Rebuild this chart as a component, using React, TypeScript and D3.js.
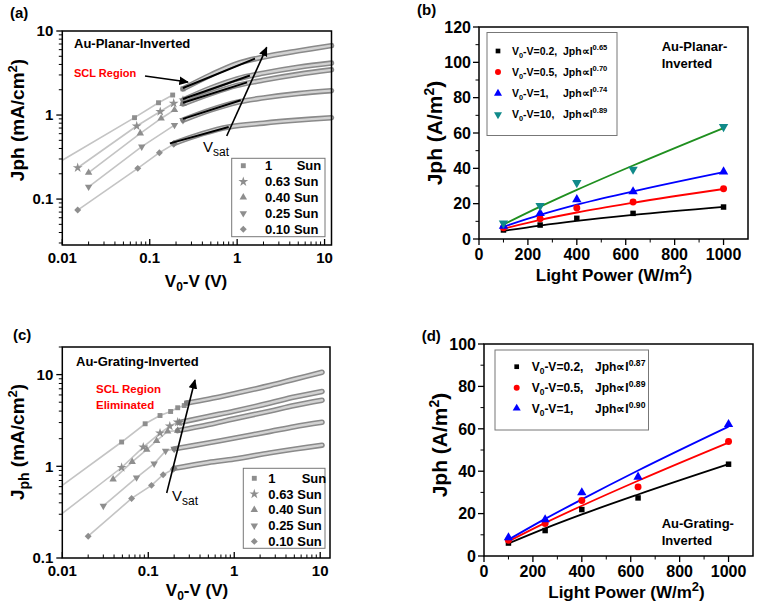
import React from "react";
import * as d3 from "d3";

const FONT = "'Liberation Sans', Arial, sans-serif";

// ---------- Panel (a): Au-Planar-Inverted, log-log ----------
const sunLabels = ["1", "0.63", "0.40", "0.25", "0.10"];
const sunSymbols = ["square", "star", "tri", "tridown", "diamond"];
const aLowV = [[0.067, 0.126, 0.183], [0.015, 0.071, 0.132, 0.188], [0.02, 0.078, 0.135, 0.192], [0.02, 0.081, 0.192], [0.015, 0.073, 0.129, 0.188]];
const aLowJ = [[0.93, 1.4, 1.73], [0.236, 0.74, 1.1, 1.38], [0.206, 0.605, 0.91, 1.15], [0.14, 0.42, 0.76], [0.074, 0.232, 0.356, 0.45]];
const aEdgeJ = [0.29, null, null, null, null];
const aBandV = [[0.24, 0.5, 1, 2, 5, 12], [0.24, 0.5, 1, 2, 5, 12], [0.24, 0.5, 1, 2, 5, 12], [0.24, 0.5, 1, 2, 5, 12], [0.19, 0.4, 0.8, 2, 5, 12]];
const aBandJ = [
  [2.05, 3.0, 4.1, 4.9, 5.8, 6.7],
  [1.51, 2.1, 2.7, 3.15, 3.7, 4.15],
  [1.36, 1.8, 2.25, 2.6, 3.05, 3.45],
  [0.87, 1.15, 1.42, 1.6, 1.8, 1.95],
  [0.46, 0.6, 0.72, 0.8, 0.87, 0.93],
];
const aFitV = [[0.24, 1.6], [0.24, 1.4], [0.24, 1.3], [0.24, 1.1], [0.17, 0.8]];
const aFitJ = [[2.1, 4.7], [1.55, 2.95], [1.4, 2.45], [0.9, 1.5], [0.46, 0.72]];

// ---------- Panel (c): Au-Grating-Inverted, log-log ----------
const cLowV = [[0.049, 0.092, 0.137, 0.182, 0.22, 0.262], [0.049, 0.0875, 0.137, 0.178, 0.22], [0.039, 0.065, 0.096, 0.125, 0.168], [0.03, 0.073, 0.117, 0.159], [0.02, 0.064, 0.109, 0.149, 0.195]];
const cLowJ = [[1.84, 2.91, 3.58, 3.96, 4.35, 4.6], [0.97, 1.62, 2.3, 2.74, 3.03], [0.72, 1.12, 1.52, 1.9, 2.4], [0.37, 0.754, 1.07, 1.47], [0.173, 0.446, 0.62, 0.81, 0.93]];
const cEdgeJ = [0.62, 0.306, null, null, null];
const cBandV = [[0.28, 0.5, 1, 2.6, 5, 10.5], [0.23, 0.5, 1, 2.6, 5, 10.5], [0.22, 0.5, 1, 2.6, 5, 10.5], [0.2, 0.5, 1, 2.6, 5, 10.5], [0.2, 0.5, 1, 2.6, 5, 10.5]];
const cBandJ = [
  [4.9, 5.4, 6.2, 7.6, 8.9, 10.6],
  [3.0, 3.5, 4.0, 4.9, 5.7, 6.55],
  [2.45, 2.85, 3.3, 4.0, 4.6, 5.25],
  [1.55, 1.8, 2.03, 2.4, 2.7, 3.02],
  [0.95, 1.1, 1.2, 1.4, 1.54, 1.7],
];

// ---------- Panels (b) and (d): Jph vs light power ----------
const lightPower = [100, 250, 400, 630, 1000];
const bVoltages = ["0.2,", "0.5,", "1,", "10,"];
const bExponents = ["0.65", "0.70", "0.74", "0.89"];
const bJ = [[5.1, 7.9, 11.7, 14.5, 18.1], [6.4, 11.5, 17.5, 20.9, 28.4], [7.3, 14.5, 22.4, 26.8, 38.1], [8.9, 18.8, 31.8, 39.4, 63.5]];
const bFit = [[4.6, 7.6, 10.2, 13.6, 18.2], [5.8, 10.8, 15.0, 20.5, 28.3], [6.9, 13.6, 19.4, 26.9, 37.8], [8.2, 18.3, 27.8, 41.6, 62.8]];
const bMarkerColors = ["#000000", "#ff0000", "#0000ff", "#108a8a"];
const bLineColors = ["#000000", "#ff0000", "#0000ff", "#1f8f1f"];
const bSymbols = ["square", "circle", "tri", "tridown"];

const dVoltages = ["0.2,", "0.5,", "1,"];
const dExponents = ["0.87", "0.89", "0.90"];
const dJ = [[6.1, 12.0, 21.9, 27.4, 43.3], [7.4, 15.3, 26.2, 32.6, 54.0], [8.7, 17.2, 29.9, 37.3, 62.1]];
const dFit = [[5.9, 13.0, 19.6, 29.0, 43.3], [6.9, 15.6, 23.7, 35.5, 53.5], [7.7, 17.5, 26.7, 40.3, 61.0]];
const dColors = ["#000000", "#ff0000", "#0000ff"];
const dSymbols = ["square", "circle", "tri"];

const linXTicks = [0, 200, 400, 600, 800, 1000];
const linXMinor = [100, 300, 500, 700, 900];

function symPath(s: string, size: number) {
  let t: any = d3.symbolSquare;
  if (s === "star") t = d3.symbolStar;
  else if (s === "tri" || s === "tridown") t = d3.symbolTriangle;
  else if (s === "circle") t = d3.symbolCircle;
  return d3.symbol(t, size)() as string;
}

function Mk({ x, y, s, size, fill, stroke }: any) {
  const rot = s === "tridown" ? 180 : s === "diamond" ? 45 : 0;
  return (
    <path
      d={symPath(s, size)}
      transform={`translate(${x},${y}) rotate(${rot})`}
      fill={fill}
      stroke={stroke || "none"}
      strokeWidth={0.6}
    />
  );
}

function logTicks(domain: number[]) {
  const major: number[] = [];
  const minor: number[] = [];
  const [a, b] = domain;
  for (let k = Math.floor(Math.log10(a)); k <= Math.ceil(Math.log10(b)); k++) {
    for (let m = 1; m <= 9; m++) {
      const v = m * Math.pow(10, k);
      if (v < a * 0.999 || v > b * 1.001) continue;
      (m === 1 ? major : minor).push(v);
    }
  }
  return { major, minor };
}

function fmtLog(v: number) {
  if (v >= 1) return String(Math.round(v));
  return String(+v.toPrecision(1));
}

function LogAxes({ xs, ys, fs }: any) {
  const [x0, x1] = xs.range();
  const [yb, yt] = ys.range();
  const xt = logTicks(xs.domain());
  const yt2 = logTicks(ys.domain());
  return (
    <g>
      <rect x={x0} y={yt} width={x1 - x0} height={yb - yt} fill="none" stroke="#000" strokeWidth={1.5} />
      {yt2.major.map((v) => (
        <g key={"ym" + v}>
          <line x1={x0 - 6} x2={x0} y1={ys(v)} y2={ys(v)} stroke="#000" strokeWidth={1.3} />
          <text x={x0 - 9} y={ys(v)} dy="0.36em" textAnchor="end" fontSize={fs} fontWeight="bold" fontFamily={FONT}>
            {fmtLog(v)}
          </text>
        </g>
      ))}
      {yt2.minor.map((v) => (
        <line key={"yn" + v} x1={x0 - 3.5} x2={x0} y1={ys(v)} y2={ys(v)} stroke="#000" strokeWidth={1} />
      ))}
      {xt.major.map((v) => (
        <g key={"xm" + v}>
          <line x1={xs(v)} x2={xs(v)} y1={yb} y2={yb - 6} stroke="#000" strokeWidth={1.3} />
          <text x={xs(v)} y={yb + 18} textAnchor="middle" fontSize={fs} fontWeight="bold" fontFamily={FONT}>
            {fmtLog(v)}
          </text>
        </g>
      ))}
      {xt.minor.map((v) => (
        <line key={"xn" + v} x1={xs(v)} x2={xs(v)} y1={yb} y2={yb - 3.5} stroke="#000" strokeWidth={1} />
      ))}
    </g>
  );
}

function LinAxes({ xs, ys, yMajor, yMinor, fs }: any) {
  const [x0, x1] = xs.range();
  const [yb, yt] = ys.range();
  return (
    <g>
      <rect x={x0} y={yt} width={x1 - x0} height={yb - yt} fill="none" stroke="#000" strokeWidth={1.5} />
      {yMajor.map((v: number) => (
        <g key={"ym" + v}>
          <line x1={x0 - 6} x2={x0} y1={ys(v)} y2={ys(v)} stroke="#000" strokeWidth={1.3} />
          <text x={x0 - 8} y={ys(v)} dy="0.36em" textAnchor="end" fontSize={fs} fontWeight="bold" fontFamily={FONT}>
            {v}
          </text>
        </g>
      ))}
      {yMinor.map((v: number) => (
        <line key={"yn" + v} x1={x0 - 3.5} x2={x0} y1={ys(v)} y2={ys(v)} stroke="#000" strokeWidth={1} />
      ))}
      {linXTicks.map((v) => (
        <g key={"xm" + v}>
          <line x1={xs(v)} x2={xs(v)} y1={yb} y2={yb + 6} stroke="#000" strokeWidth={1.3} />
          <text x={xs(v)} y={yb + 21} textAnchor="middle" fontSize={fs} fontWeight="bold" fontFamily={FONT}>
            {v}
          </text>
        </g>
      ))}
      {linXMinor.map((v) => (
        <line key={"xn" + v} x1={xs(v)} x2={xs(v)} y1={yb} y2={yb + 3.5} stroke="#000" strokeWidth={1} />
      ))}
    </g>
  );
}

function LogData({ xs, ys, lowV, lowJ, edgeJ, bandV, bandJ, fitV, fitJ, connect }: any) {
  const line = d3
    .line<[number, number]>()
    .x((d) => xs(d[0]))
    .y((d) => ys(d[1]));
  const curve = d3
    .line<[number, number]>()
    .x((d) => xs(d[0]))
    .y((d) => ys(d[1]))
    .curve(d3.curveCatmullRom.alpha(0.5));
  return (
    <g>
      {lowV.map((vs: number[], i: number) => {
        const pts: [number, number][] = vs.map((v, k) => [v, lowJ[i][k]]);
        if (edgeJ[i] != null) pts.unshift([xs.domain()[0], edgeJ[i]]);
        if (connect) pts.push([bandV[i][0], bandJ[i][0]]);
        return <path key={"l" + i} d={line(pts) as string} fill="none" stroke="#c4c4c4" strokeWidth={1.6} />;
      })}
      {lowV.map((vs: number[], i: number) =>
        vs.map((v, k) => (
          <Mk key={"m" + i + "_" + k} x={xs(v)} y={ys(lowJ[i][k])} s={sunSymbols[i]} size={i === 1 ? 30 : 24} fill="#8e8e8e" />
        ))
      )}
      {bandV.map((vs: number[], i: number) => {
        const pts: [number, number][] = vs.map((v, k) => [v, bandJ[i][k]]);
        const d = curve(pts) as string;
        return (
          <g key={"b" + i}>
            <path d={d} fill="none" stroke="#8a8a8a" strokeWidth={5.5} strokeLinecap="round" />
            <path d={d} fill="none" stroke="#d2d2d2" strokeWidth={2.4} strokeLinecap="round" />
          </g>
        );
      })}
      {bandV.map((vs: number[], i: number) => (
        <Mk key={"bs" + i} x={xs(vs[0])} y={ys(bandJ[i][0])} s={sunSymbols[i]} size={24} fill="#7e7e7e" />
      ))}
      {fitV &&
        fitV.map((vs: number[], i: number) => {
          const pts: [number, number][] = vs.map((v, k) => [v, fitJ[i][k]]);
          return <path key={"f" + i} d={line(pts) as string} fill="none" stroke="#000" strokeWidth={2} />;
        })}
    </g>
  );
}

function SunLegend({ x0, y0, x1, y1, rows, mx, tx, sunX }: any) {
  return (
    <g>
      <rect x={x0} y={y0} width={x1 - x0} height={y1 - y0} fill="#fff" stroke="#777" strokeWidth={1} />
      {sunLabels.map((lab, i) => (
        <g key={lab}>
          <Mk x={mx} y={rows[i]} s={sunSymbols[i]} size={i === 1 ? 30 : 24} fill="#8e8e8e" />
          {i === 0 ? (
            <>
              <text x={tx} y={rows[i]} dy="0.36em" fontSize={13} fontWeight="bold" fontFamily={FONT}>1</text>
              <text x={sunX} y={rows[i]} dy="0.36em" fontSize={13} fontWeight="bold" fontFamily={FONT}>Sun</text>
            </>
          ) : (
            <text x={tx} y={rows[i]} dy="0.36em" fontSize={13} fontWeight="bold" fontFamily={FONT}>
              {lab} Sun
            </text>
          )}
        </g>
      ))}
    </g>
  );
}

function LinData({ xs, ys, J, fit, mColors, lColors, syms }: any) {
  const curve = d3
    .line<number>()
    .x((_, k) => xs(lightPower[k]))
    .y((d) => ys(d))
    .curve(d3.curveMonotoneX);
  return (
    <g>
      {fit.map((f: number[], i: number) => (
        <path key={"f" + i} d={curve(f) as string} fill="none" stroke={lColors[i]} strokeWidth={1.8} />
      ))}
      {J.map((js: number[], i: number) =>
        js.map((j, k) => (
          <Mk key={"p" + i + "_" + k} x={xs(lightPower[k])} y={ys(j)} s={syms[i]} size={syms[i] === "square" ? 30 : 38} fill={mColors[i]} />
        ))
      )}
    </g>
  );
}

function PowLegend({ x0, y0, x1, y1, rows, mx, tx, jx, volts, exps, mColors, syms, fs }: any) {
  return (
    <g>
      <rect x={x0} y={y0} width={x1 - x0} height={y1 - y0} fill="#fff" stroke="#777" strokeWidth={1} />
      {volts.map((v: string, i: number) => (
        <g key={v}>
          <Mk x={mx} y={rows[i]} s={syms[i]} size={syms[i] === "square" ? 22 : 28} fill={mColors[i]} />
          <text x={tx} y={rows[i]} dy="0.36em" fontSize={fs} fontWeight="bold" fontFamily={FONT}>
            V<tspan fontSize={fs * 0.7} dy={3}>0</tspan>
            <tspan dy={-3}>-V={v}</tspan>
          </text>
          <text x={jx} y={rows[i]} dy="0.36em" fontSize={fs} fontWeight="bold" fontFamily={FONT}>
            Jph∝I<tspan fontSize={fs * 0.72} dy={-5}>{exps[i]}</tspan>
          </text>
        </g>
      ))}
    </g>
  );
}

export default function App() {
  const ax = d3.scaleLog().domain([0.01, 12]).range([62.3, 331.5]);
  const ay = d3.scaleLog().domain([0.0284, 10]).range([245, 31]);
  const cx = d3.scaleLog().domain([0.01, 13]).range([62.3, 330]);
  const cy = d3.scaleLog().domain([0.1, 20]).range([558, 347]);
  const bx = d3.scaleLinear().domain([0, 1100]).range([479, 748]);
  const by = d3.scaleLinear().domain([0, 120]).range([239, 27]);
  const dx = d3.scaleLinear().domain([0, 1100]).range([484, 753]);
  const dy = d3.scaleLinear().domain([0, 100]).range([556, 344]);

  const bYMajor = [0, 20, 40, 60, 80, 100, 120];
  const bYMinor = [10, 30, 50, 70, 90, 110];
  const dYMajor = [0, 20, 40, 60, 80, 100];
  const dYMinor = [10, 30, 50, 70, 90];

  const bold = { fontWeight: "bold", fontFamily: FONT } as any;

  return (
    <svg width={757} height={610} style={{ position: "absolute", left: 0, top: 0, background: "#fff" }}>
      <defs>
        <marker id="arr" viewBox="0 0 10 10" refX={9} refY={5} markerWidth={6} markerHeight={6} orient="auto">
          <path d="M0,0.5 L10,5 L0,9.5 z" fill="#000" />
        </marker>
      </defs>
      <rect x={0} y={0} width={757} height={610} fill="#fff" />

      {/* ---------- (a) ---------- */}
      <text x={10} y={18} fontSize={15} {...bold}>(a)</text>
      <LogData xs={ax} ys={ay} lowV={aLowV} lowJ={aLowJ} edgeJ={aEdgeJ} bandV={aBandV} bandJ={aBandJ} fitV={aFitV} fitJ={aFitJ} connect={false} />
      <LogAxes xs={ax} ys={ay} fs={15} />
      <text x={74} y={48} fontSize={13} {...bold}>Au-Planar-Inverted</text>
      <text x={74} y={77} fontSize={11} fill="#ff0000" {...bold}>SCL Region</text>
      <line x1={145} y1={76} x2={188} y2={82} stroke="#000" strokeWidth={1.6} markerEnd="url(#arr)" />
      <line x1={226.7} y1={136} x2={266.7} y2={47.3} stroke="#000" strokeWidth={1.6} markerEnd="url(#arr)" />
      <text x={203} y={152} fontSize={15} fontFamily={FONT}>
        V<tspan fontSize={12} dy={4}>sat</tspan>
      </text>
      <SunLegend x0={231.7} y0={158.3} x1={325} y1={236.7} rows={[165.7, 181.7, 197.3, 213.3, 229.3]} mx={243.3} tx={265} sunX={296.7} />
      <text x={196} y={287} textAnchor="middle" fontSize={17} {...bold}>
        V<tspan fontSize={12} dy={4}>0</tspan>
        <tspan dy={-4}>-V (V)</tspan>
      </text>
      <text transform="translate(24,120) rotate(-90)" textAnchor="middle" fontSize={19} {...bold}>
        Jph (mA/cm<tspan fontSize={13} dy={-7}>2</tspan>
        <tspan dy={7}>)</tspan>
      </text>

      {/* ---------- (b) ---------- */}
      <text x={417} y={15} fontSize={15} {...bold}>(b)</text>
      <LinData xs={bx} ys={by} J={bJ} fit={bFit} mColors={bMarkerColors} lColors={bLineColors} syms={bSymbols} />
      <LinAxes xs={bx} ys={by} yMajor={bYMajor} yMinor={bYMinor} fs={16} />
      <PowLegend x0={487} y0={32.5} x1={617} y1={135.5} rows={[51, 72, 93.5, 114.5]} mx={498} tx={512} jx={563}
        volts={bVoltages} exps={bExponents} mColors={bMarkerColors} syms={bSymbols} fs={10.5} />
      <text x={661.7} y={51} fontSize={13} {...bold}>Au-Planar-</text>
      <text x={661.7} y={68} fontSize={13} {...bold}>Inverted</text>
      <text x={614} y={281} textAnchor="middle" fontSize={17} {...bold}>
        Light Power (W/m<tspan fontSize={13} dy={-7}>2</tspan>
        <tspan dy={7}>)</tspan>
      </text>
      <text transform="translate(442,133) rotate(-90)" textAnchor="middle" fontSize={21} {...bold}>
        Jph (A/m<tspan fontSize={14} dy={-8}>2</tspan>
        <tspan dy={8}>)</tspan>
      </text>

      {/* ---------- (c) ---------- */}
      <text x={13} y={340} fontSize={15} {...bold}>(c)</text>
      <LogData xs={cx} ys={cy} lowV={cLowV} lowJ={cLowJ} edgeJ={cEdgeJ} bandV={cBandV} bandJ={cBandJ} connect={true} />
      <LogAxes xs={cx} ys={cy} fs={15} />
      <text x={76} y={366} fontSize={13} {...bold}>Au-Grating-Inverted</text>
      <text x={96} y={393} fontSize={11.5} fill="#ff0000" {...bold}>SCL Region</text>
      <text x={96} y={409} fontSize={11.5} fill="#ff0000" {...bold}>Eliminated</text>
      <line x1={166.7} y1={493} x2={195} y2={380} stroke="#000" strokeWidth={1.6} markerEnd="url(#arr)" />
      <text x={172} y={501} fontSize={15} fontFamily={FONT}>
        V<tspan fontSize={12} dy={4}>sat</tspan>
      </text>
      <SunLegend x0={243.3} y0={468.3} x1={325} y1={548.3} rows={[478.3, 494, 509.8, 525.7, 541.4]} mx={254.3} tx={268.3} sunX={301.7} />
      <text x={197} y={596} textAnchor="middle" fontSize={17} {...bold}>
        V<tspan fontSize={12} dy={4}>0</tspan>
        <tspan dy={-4}>-V (V)</tspan>
      </text>
      <text transform="translate(24,442) rotate(-90)" textAnchor="middle" fontSize={19} {...bold}>
        J<tspan fontSize={14} dy={5}>ph</tspan>
        <tspan dy={-5}> (mA/cm</tspan>
        <tspan fontSize={13} dy={-7}>2</tspan>
        <tspan dy={7}>)</tspan>
      </text>

      {/* ---------- (d) ---------- */}
      <text x={421.7} y={341} fontSize={15} {...bold}>(d)</text>
      <LinData xs={dx} ys={dy} J={dJ} fit={dFit} mColors={dColors} lColors={dColors} syms={dSymbols} />
      <LinAxes xs={dx} ys={dy} yMajor={dYMajor} yMinor={dYMinor} fs={16} />
      <PowLegend x0={495} y0={350} x1={648.5} y1={430} rows={[366.7, 387.7, 408.3]} mx={516.7} tx={531.7} jx={595}
        volts={dVoltages} exps={dExponents} mColors={dColors} syms={dSymbols} fs={12} />
      <text x={661.7} y={528} fontSize={13} {...bold}>Au-Grating-</text>
      <text x={661.7} y={545} fontSize={13} {...bold}>Inverted</text>
      <text x={626.5} y={598} textAnchor="middle" fontSize={17} {...bold}>
        Light Power (W/m<tspan fontSize={13} dy={-7}>2</tspan>
        <tspan dy={7}>)</tspan>
      </text>
      <text transform="translate(447,445) rotate(-90)" textAnchor="middle" fontSize={21} {...bold}>
        Jph (A/m<tspan fontSize={14} dy={-8}>2</tspan>
        <tspan dy={8}>)</tspan>
      </text>
    </svg>
  );
}
